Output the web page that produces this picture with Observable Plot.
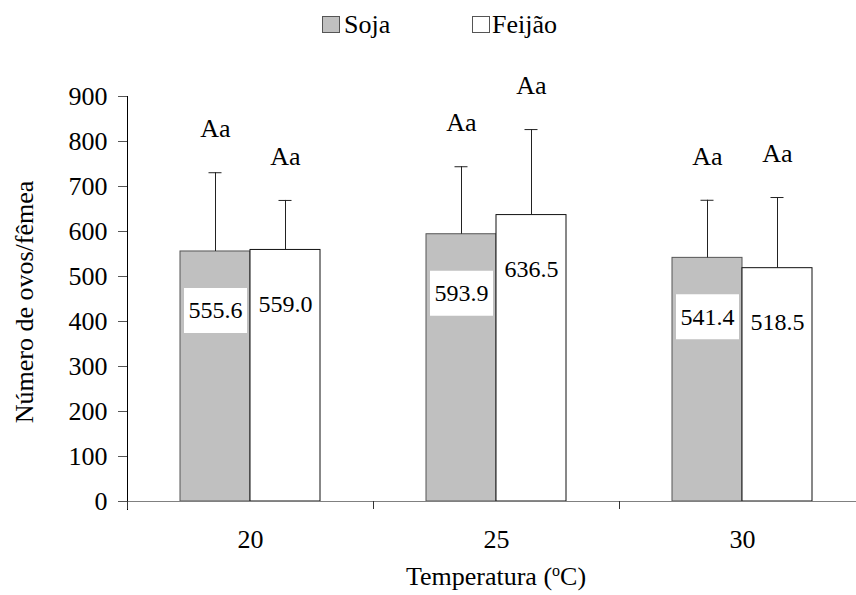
<!DOCTYPE html>
<html>
<head>
<meta charset="utf-8">
<script src="https://cdn.jsdelivr.net/npm/d3@7"></script>
<script src="https://cdn.jsdelivr.net/npm/@observablehq/plot@0.6"></script>
<style>
  body { margin: 0; background: #fff; font-family: 'Liberation Serif', serif; }
  svg text { font-family: 'Liberation Serif', serif; }
  #legend { position: relative; height: 50px; width: 856px; }
  .sw { position: absolute; top: 16px; width: 18px; height: 17px; box-sizing: border-box; border: 1px solid #555; }
  .lt { position: absolute; top: 12px; font-size: 26px; line-height: 26px; color: #000; font-family: 'Liberation Serif', serif; }
</style>
</head>
<body>
<div id="legend">
  <div class="sw" style="left:322px;background:#c0c0c0"></div><div class="lt" style="left:344px">Soja</div>
  <div class="sw" style="left:472px;background:#fff"></div><div class="lt" style="left:492px">Feijão</div>
</div>
<div id="chart"></div>
<script>
const temps = ["20", "25", "30"];
const sojaMean = [555.6, 593.9, 541.4];
const feijaoMean = [559.0, 636.5, 518.5];
const sojaErr = [175, 150, 128];
const feijaoErr = [110, 190, 157];
const sojaLetters = ["Aa", "Aa", "Aa"];
const feijaoLetters = ["Aa", "Aa", "Aa"];
const yTicks = [0, 100, 200, 300, 400, 500, 600, 700, 800, 900];

const FONT = "Liberation Serif";

const soja = temps.map((t, i) => ({temp: t, mean: sojaMean[i], top: sojaMean[i] + sojaErr[i], letter: sojaLetters[i]}));
const feijao = temps.map((t, i) => ({temp: t, mean: feijaoMean[i], top: feijaoMean[i] + feijaoErr[i], letter: feijaoLetters[i]}));

const boxSymbol = {draw(ctx) { ctx.rect(-31.5, -22.5, 63, 45); }};

function seriesMarks(data, side, fill, stroke, withBox, labelDy) {
  const off = side * 35;
  const barInsets = side < 0 ? {insetLeft: 53, insetRight: 123} : {insetLeft: 123, insetRight: 53};
  const capInsets = side < 0 ? {insetLeft: 81.5, insetRight: 151.5} : {insetLeft: 151.5, insetRight: 81.5};
  const marks = [
    Plot.barY(data, {x: "temp", y: "mean", fill, stroke, strokeWidth: 1, ...barInsets}),
    Plot.ruleX(data, {x: "temp", y1: "mean", y2: "top", dx: off, stroke: "#222", strokeWidth: 1}),
    Plot.tickY(data, {x: "temp", y: "top", stroke: "#222", strokeWidth: 1, ...capInsets}),
    Plot.text(data, {x: "temp", y: "top", text: "letter", dx: off, dy: -44, fontSize: 26, fontFamily: FONT})
  ];
  if (withBox) marks.push(Plot.dot(data, {x: "temp", y: "mean", dx: off, dy: labelDy, symbol: boxSymbol, fill: "white", stroke: "none"}));
  marks.push(Plot.text(data, {x: "temp", y: "mean", text: d => d.mean.toFixed(1), dx: off, dy: labelDy, fontSize: 24, fontFamily: FONT}));
  return marks;
}

const chart = Plot.plot({
  width: 856,
  height: 545,
  marginLeft: 127,
  marginRight: 0,
  marginTop: 46,
  marginBottom: 94,
  style: {fontFamily: FONT, fontSize: "26px", color: "#000", background: "#fff"},
  x: {domain: temps, range: [127, 865], padding: 0, label: null},
  y: {domain: [0, 900], label: null},
  marks: [
    ...seriesMarks(soja, -1, "#c0c0c0", "#555", true, 59),
    ...seriesMarks(feijao, 1, "white", "#111", false, 54),
    Plot.ruleY([0], {stroke: "#808080", strokeWidth: 1.2, insetLeft: -7}),
    Plot.frame({anchor: "left", stroke: "#000", insetBottom: -8}),
    Plot.axisY({ticks: yTicks, tickSize: 9, tickPadding: 11, label: null, stroke: "#555", fontSize: 26, fontFamily: FONT}),
    Plot.axisX({tickSize: 8, tickFormat: () => "", dx: -123, label: null, stroke: "#333"}),
    Plot.axisX({tickSize: 0, tickPadding: 28, label: null, fontSize: 26, fontFamily: FONT}),
    Plot.text(["Número de ovos/fêmea"], {frameAnchor: "left", textAnchor: "middle", rotate: -90, dx: -103, dy: 3, fontSize: 26, fontFamily: FONT}),
    Plot.text(["Temperatura (oC)"], {frameAnchor: "bottom", textAnchor: "middle", dx: 4, dy: 75, lineAnchor: "middle", fontSize: 26, fontFamily: FONT})
  ]
});

d3.select(chart).selectAll("text").filter(function() { return this.textContent === "Temperatura (oC)"; })
  .each(function() {
    const t = d3.select(this);
    t.text(null);
    t.append("tspan").text("Temperatura (");
    t.append("tspan").attr("dy", -9).attr("font-size", "16px").text("o");
    t.append("tspan").attr("dy", 9).text("C)");
  });

document.getElementById("chart").appendChild(chart);
</script>
</body>
</html>
